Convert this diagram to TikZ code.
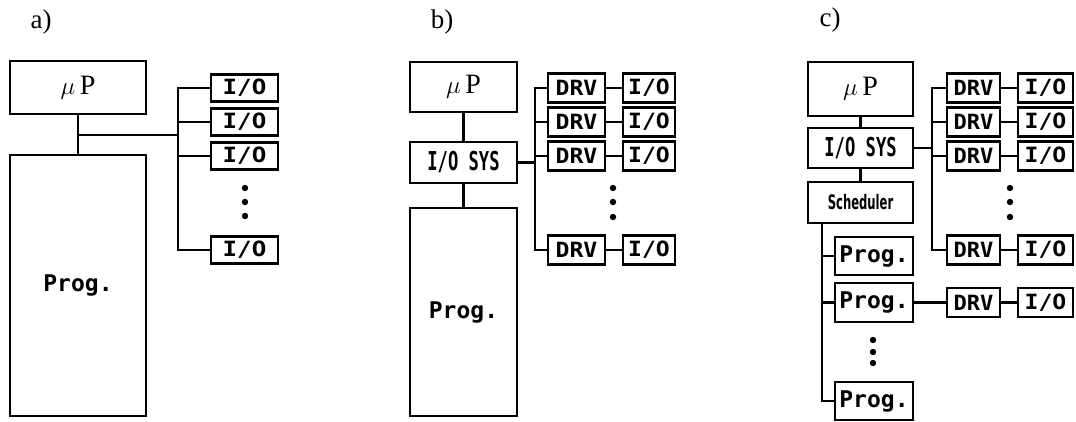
\documentclass[tikz,border=0pt]{standalone}
\usepackage{fontspec}
\usepackage{graphicx}
\setmainfont{Liberation Serif}
\newfontfamily\monof{DejaVu Sans Mono}
\newfontfamily\dsansf{DejaVu Sans}
\newcommand{\hsc}[2]{\scalebox{#1}[1]{#2}}
\begin{document}
\begin{tikzpicture}[x=1pt,y=-1pt,
  box/.style={draw,line width=2.6pt,inner sep=0pt},
  wire/.style={line width=2.4pt},
  lbl/.style={font=\fontsize{27}{27}\selectfont},
  upf/.style={font=\fontsize{28}{28}\selectfont},
  progf/.style={font=\monof\bfseries\fontsize{23}{23}\selectfont},
  iof/.style={font=\monof\bfseries\fontsize{21}{21}\selectfont},
  sysf/.style={font=\monof\bfseries\fontsize{26}{26}\selectfont},
  schf/.style={font=\dsansf\bfseries\fontsize{20}{20}\selectfont},
  dot/.style={fill=black}]
\useasboundingbox (0,0) rectangle (1076,422);
\fill[white] (0,0) rectangle (1076,422);

% ---------- a) ----------
\node[lbl] (la) at (41,22) {a)};
\node[box,upf,minimum width=136pt,minimum height=53pt] (aP) at (78,87.5) {$\mu$\,P};
\node[box,progf,minimum width=136pt,minimum height=261pt] (aProg) at (78,285.5) {Prog.};
\draw[wire] (aP) -- (aProg);
\coordinate (aJ) at (78,135);
\coordinate (aBx) at (178,0);
\foreach \i/\y in {1/88,2/122,3/156,4/250}
  \node[box,iof,minimum width=67pt,minimum height=27pt] (aIO\i) at (244.5,\y) {\hsc{1.15}{I/O}};
\draw[wire] (aJ) -- (aJ -| aBx);
\draw[wire] (aIO1.west) -- (aIO1.west -| aBx) -- (aIO4.west -| aBx) -- (aIO4.west);
\draw[wire] (aIO2.west) -- (aIO2.west -| aBx);
\draw[wire] (aIO3.west) -- (aIO3.west -| aBx);
\foreach \y in {188,202,216} \fill[dot] (245,\y) circle (3.2);

% ---------- b) ----------
\node[lbl] (lb) at (442,22) {b)};
\node[box,upf,minimum width=107pt,minimum height=50pt] (bP) at (463.5,87) {$\mu$\,P};
\node[box,sysf,minimum width=107pt,minimum height=41pt] (bSys) at (463.5,162.5) {\hsc{0.66}{I/O SYS}};
\node[box,progf,minimum width=107pt,minimum height=208pt] (bProg) at (463.5,312) {Prog.};
\draw[wire] (bP) -- (bSys);
\draw[wire] (bSys) -- (bProg);
\coordinate (bBx) at (535,0);
\foreach \i/\y in {1/88,2/122,3/156,4/250}{
  \node[box,iof,minimum width=57pt,minimum height=29pt] (bD\i) at (576.5,\y) {\hsc{1.1}{DRV}};
  \node[box,iof,minimum width=52pt,minimum height=29pt] (bI\i) at (649,\y) {\hsc{1.1}{I/O}};
  \draw[wire] (bD\i) -- (bI\i);
}
\draw[wire] (bSys.east) -- (bSys.east -| bBx);
\draw[wire] (bD1.west) -- (bD1.west -| bBx) -- (bD4.west -| bBx) -- (bD4.west);
\draw[wire] (bD2.west) -- (bD2.west -| bBx);
\draw[wire] (bD3.west) -- (bD3.west -| bBx);
\foreach \y in {188,202,217} \fill[dot] (613,\y) circle (3.2);

% ---------- c) ----------
\node[lbl] (lc) at (830,20) {c)};
\node[box,upf,minimum width=105pt,minimum height=54pt] (cP) at (860.5,89) {$\mu$\,P};
\node[box,sysf,minimum width=105pt,minimum height=40pt] (cSys) at (860.5,148) {\hsc{0.66}{I/O SYS}};
\node[box,schf,minimum width=105pt,minimum height=41pt] (cSch) at (860.5,202.5) {\hsc{0.58}{Scheduler}};
\draw[wire] (cP) -- (cSys);
\draw[wire] (cSys) -- (cSch);
\coordinate (cBx) at (932,0);
\foreach \i/\y in {1/88,2/122,3/156,4/250}{
  \node[box,iof,minimum width=53pt,minimum height=29pt] (cD\i) at (973.5,\y) {\hsc{1.05}{DRV}};
  \node[box,iof,minimum width=55pt,minimum height=29pt] (cI\i) at (1045.5,\y) {\hsc{1.1}{I/O}};
  \draw[wire] (cD\i) -- (cI\i);
}
\draw[wire] (cSys.east) -- (cSys.east -| cBx);
\draw[wire] (cD1.west) -- (cD1.west -| cBx) -- (cD4.west -| cBx) -- (cD4.west);
\draw[wire] (cD2.west) -- (cD2.west -| cBx);
\draw[wire] (cD3.west) -- (cD3.west -| cBx);
\foreach \y in {188,202,217} \fill[dot] (1010,\y) circle (3.2);

\node[box,progf,minimum width=78pt,minimum height=38pt] (cG1) at (874,256) {Prog.};
\node[box,progf,minimum width=78pt,minimum height=39pt] (cG2) at (874,302.5) {Prog.};
\node[box,progf,minimum width=78pt,minimum height=38pt] (cG3) at (874,401) {Prog.};
\coordinate (cSx) at (822,0);
\draw[wire] (cSch.south -| cSx) -- (cG3.west -| cSx) -- (cG3.west);
\draw[wire] (cG1.west) -- (cG1.west -| cSx);
\draw[wire] (cG2.west) -- (cG2.west -| cSx);
\foreach \y in {340,352,363} \fill[dot] (873,\y) circle (3.2);
\node[box,iof,minimum width=53pt,minimum height=29pt] (cD5) at (973.5,302.5) {\hsc{1.05}{DRV}};
\node[box,iof,minimum width=55pt,minimum height=29pt] (cI5) at (1045.5,302.5) {\hsc{1.1}{I/O}};
\draw[wire] (cG2) -- (cD5);
\draw[wire] (cD5) -- (cI5);
\end{tikzpicture}
\end{document}
